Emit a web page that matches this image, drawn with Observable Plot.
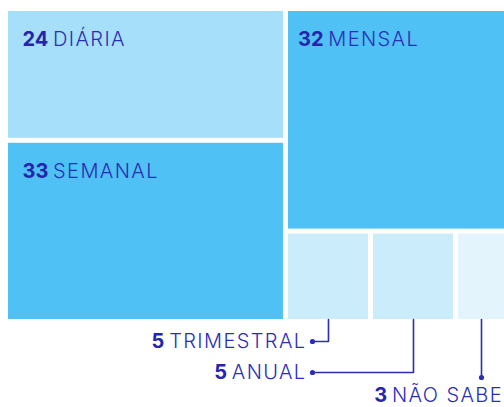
<!DOCTYPE html>
<html><head><meta charset="utf-8">
<script src="https://cdn.jsdelivr.net/npm/d3@7"></script>
<script src="https://cdn.jsdelivr.net/npm/@observablehq/plot@0.6"></script>
<style>body{margin:0;background:#fff} svg{display:block}</style>
</head><body><div id="chart"></div>
<script>
const categories = ["DIÁRIA", "SEMANAL", "MENSAL", "TRIMESTRAL", "ANUAL", "NÃO SABE"];
const values = [24, 33, 32, 5, 5, 3];
const column = ["a", "a", "b", "b", "b", "b"];
const row = ["1", "2", "1", "2", "2", "2"];
const outside = ["TRIMESTRAL", "ANUAL", "NÃO SABE"];
const palette = ["#a6dffa", "#4fc1f4", "#4fc1f4", "#cbecfb", "#cbecfb", "#e3f4fc"];

const ink = "#2b2db5";
const W = 496, H = 308;

const rows = categories.map((c, i) => ({cat: c, value: values[i], col: column[i], row: row[i]}));
const root = d3.hierarchy(d3.group(rows, d => d.col, d => d.row))
  .sum(d => d.value || 0);
d3.treemap().tile(d3.treemapSliceDice).size([W, H]).paddingInner(5).round(false)(root);
const leaves = root.leaves().map(n => ({...n.data, x0: n.x0, x1: n.x1, y0: n.y0, y1: n.y1}));

const inner = leaves.filter(d => !outside.includes(d.cat));
const outer = leaves.filter(d => outside.includes(d.cat));

// leader geometry (below treemap)
const leaderY = {"TRIMESTRAL": H + 22, "ANUAL": H + 53, "NÃO SABE": H + 58};
const elbowX = 304;
const leaders = [];
const dots = [];
const outLabels = [];
for (const d of outer) {
  const cx = (d.x0 + d.x1) / 2;
  const ly = leaderY[d.cat];
  const ex = d.cat === "NÃO SABE" ? cx : elbowX;
  leaders.push({cat: d.cat, x: cx, y: d.y1});
  leaders.push({cat: d.cat, x: cx, y: ly});
  leaders.push({cat: d.cat, x: ex, y: ly});
  dots.push({x: ex, y: ly});
  if (d.cat === "NÃO SABE") outLabels.push({x: W - 1.5, y: ly + 18.5, label: `${d.value} ${d.cat}`});
  else outLabels.push({x: ex - 6, y: ly, label: `${d.value} ${d.cat}`});
}

const chart = Plot.plot({
  width: 504, height: 407,
  marginLeft: 8, marginRight: 0, marginTop: 11, marginBottom: 88,
  x: {domain: [0, W], axis: null},
  y: {domain: [0, H], axis: null, reverse: true},
  color: {type: "ordinal", domain: categories, range: palette},
  style: {fontFamily: "Inter, 'Noto Sans', sans-serif", fontSize: "20px", background: "#fff"},
  marks: [
    Plot.rect(leaves, {x1: "x0", x2: "x1", y1: "y0", y2: "y1", fill: "cat"}),
    Plot.text(inner, {
      x: d => d.x0 + (d.x0 < 100 ? 14 : 9.5), y: d => d.y0 + 28,
      text: d => `${d.value} ${d.cat}`, textAnchor: "start", fill: ink, fontSize: 20
    }),
    Plot.line(leaders, {x: "x", y: "y", z: "cat", stroke: ink, strokeWidth: 1.6, curve: "linear"}),
    Plot.dot(dots, {x: "x", y: "y", r: 2.6, fill: ink, stroke: null}),
    Plot.text(outLabels, {x: "x", y: "y", text: "label", textAnchor: "end", fill: ink, fontSize: 20})
  ]
});

d3.select(chart).selectAll('g[aria-label="text"] text').each(function() {
  const t = this.textContent;
  const m = t.match(/^(\d+) (.*)$/);
  if (!m) return;
  const sel = d3.select(this);
  sel.text(null);
  sel.append("tspan").attr("font-weight", 700).attr("fill", "#2424ad").text(m[1] + " ");
  sel.append("tspan").attr("font-weight", 300).attr("letter-spacing", "1.4px").text(m[2]);
});

document.getElementById("chart").append(chart);
</script>
</body></html>
